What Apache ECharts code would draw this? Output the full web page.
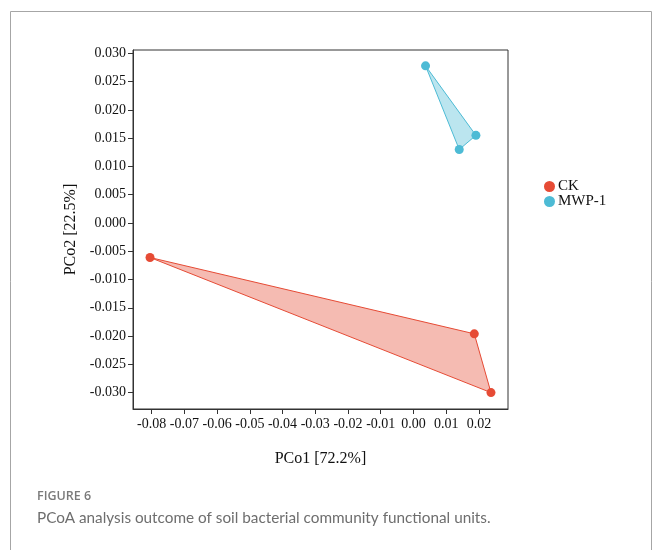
<!DOCTYPE html>
<html>
<head>
<meta charset="utf-8">
<script src="https://cdn.jsdelivr.net/npm/echarts@6/dist/echarts.min.js"></script>
<style>
  html, body { margin: 0; padding: 0; background: #fff; }
  #chart { width: 658px; height: 550px; }
</style>
</head>
<body>
<div id="chart"></div>
<script>
// PCoA sample coordinates per group: [PCo1, PCo2]
const groupNames = ['CK', 'MWP-1'];
const groupColors = ['#E64B35', '#4DBBD5'];
const ckPoints = [[-0.0805, -0.0061], [0.0186, -0.0196], [0.0237, -0.0300]];
const mwpPoints = [[0.0037, 0.0278], [0.0191, 0.0155], [0.0140, 0.0130]];

// Tick positions shown on each axis
const xTicks = [-0.08, -0.07, -0.06, -0.05, -0.04, -0.03, -0.02, -0.01, 0.00, 0.01, 0.02];
const yTicks = [-0.030, -0.025, -0.020, -0.015, -0.010, -0.005, 0.000, 0.005, 0.010, 0.015, 0.020, 0.025, 0.030];

const xTitle = 'PCo1 [72.2%]';
const yTitle = 'PCo2 [22.5%]';
const figLabel = 'FIGURE 6';
const figCaption = 'PCoA analysis outcome of soil bacterial community functional units.';

const groups = [ckPoints, mwpPoints];
const serif = '"Liberation Serif", "Times New Roman", serif';

function hexToRgba(hex, a) {
  const n = parseInt(hex.slice(1), 16);
  return `rgba(${(n >> 16) & 255},${(n >> 8) & 255},${n & 255},${a})`;
}

// Filled hull polygon for one group, projected through the cartesian axes
function hullSeries(points, color) {
  return {
    type: 'custom',
    coordinateSystem: 'cartesian2d',
    silent: true,
    z: 1,
    data: [0],
    renderItem: function (params, api) {
      const pts = points.map(p => api.coord(p));
      return {
        type: 'polygon',
        shape: { points: pts },
        style: { fill: hexToRgba(color, 0.38), stroke: color, lineWidth: 1 }
      };
    }
  };
}

const series = [];
groups.forEach((pts, i) => series.push(hullSeries(pts, groupColors[i])));
groups.forEach((pts, i) => series.push({
  name: groupNames[i],
  type: 'scatter',
  data: pts,
  symbol: 'circle',
  symbolSize: 9,
  z: 3,
  itemStyle: { color: groupColors[i], opacity: 1 }
}));

const chart = echarts.init(document.getElementById('chart'), null, { renderer: 'canvas' });
chart.setOption({
  animation: false,
  backgroundColor: '#fff',
  graphic: [
    { type: 'rect', shape: { x: 10.5, y: 11.5, width: 641, height: 620 },
      style: { fill: 'none', stroke: '#a6a6a6', lineWidth: 1 }, z: -10 },
    { type: 'text', left: 37, top: 490,
      style: { text: figLabel, font: '600 12.5px "Open Sans", sans-serif', fill: '#7a7a7a' } },
    { type: 'text', left: 37, top: 511,
      style: { text: figCaption, font: '15.3px Lato, sans-serif', fill: '#6e6e6e' } }
  ],
  legend: {
    orient: 'vertical',
    left: 539,
    top: 174,
    itemWidth: 11,
    itemHeight: 11,
    itemGap: 0,
    icon: 'circle',
    data: groupNames,
    textStyle: { fontFamily: serif, fontSize: 15, lineHeight: 14, color: '#111', padding: [0, 0, 0, -2] }
  },
  grid: {
    left: 133, top: 50, right: 150, bottom: 141,
    show: true, borderColor: '#333', borderWidth: 1, backgroundColor: 'transparent'
  },
  xAxis: {
    type: 'value',
    min: -0.0857,
    max: 0.0289,
    name: xTitle,
    nameLocation: 'middle',
    nameGap: 42,
    nameTextStyle: { fontFamily: serif, fontSize: 16, color: '#111' },
    splitLine: { show: false },
    axisLine: { show: true, onZero: false, lineStyle: { color: '#333', width: 1 } },
    axisTick: { show: true, inside: false, length: 5, customValues: xTicks, lineStyle: { color: '#333' } },
    axisLabel: {
      customValues: xTicks,
      margin: 8,
      fontFamily: serif, fontSize: 14, color: '#111',
      formatter: v => v.toFixed(2)
    }
  },
  yAxis: {
    type: 'value',
    min: -0.0329,
    max: 0.0306,
    name: yTitle,
    nameLocation: 'middle',
    nameGap: 53,
    nameTextStyle: { fontFamily: serif, fontSize: 16, color: '#111' },
    splitLine: { show: false },
    axisLine: { show: true, onZero: false, lineStyle: { color: '#333', width: 1 } },
    axisTick: { show: true, inside: false, length: 5, customValues: yTicks, lineStyle: { color: '#333' } },
    axisLabel: {
      customValues: yTicks,
      margin: 7,
      fontFamily: serif, fontSize: 14, color: '#111',
      formatter: v => v.toFixed(3)
    }
  },
  series: series
});
</script>
</body>
</html>
